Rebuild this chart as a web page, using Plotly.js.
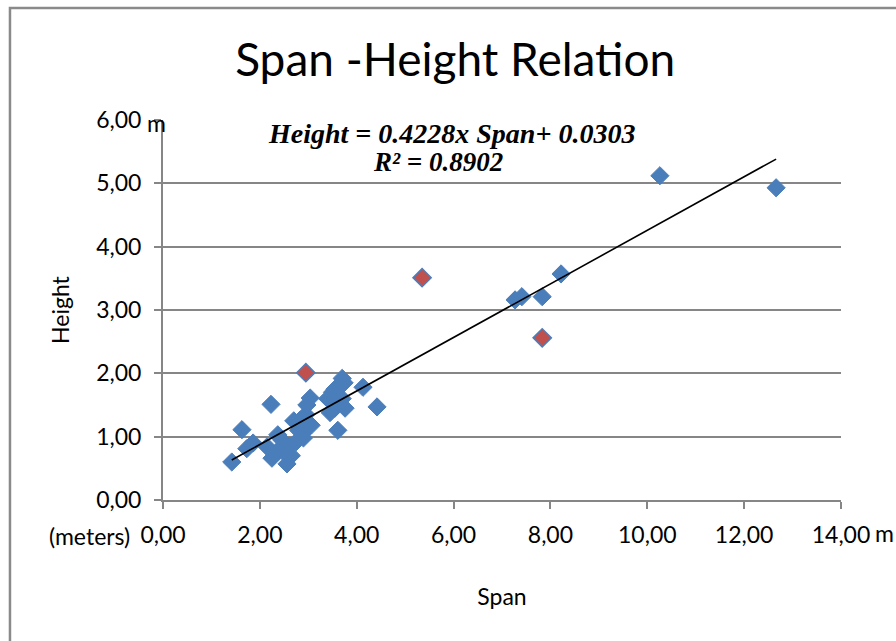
<!DOCTYPE html>
<html>
<head>
<meta charset="utf-8">
<script src="https://cdn.plot.ly/plotly-3.0.1.min.js"></script>
<style>html,body{margin:0;padding:0;background:#fff;}#chart{width:896px;height:641px;}</style>
</head>
<body>
<div id="chart"></div>
<script>
// Blue points (Span, Height) in meters
const spanBlue = [1.42, 1.63, 1.73, 1.86, 2.15, 2.23, 2.25, 2.37, 2.40, 2.45, 2.50, 2.52, 2.56, 2.62, 2.65, 2.70, 2.75, 2.80, 2.83, 2.88, 2.95, 2.97, 3.04, 3.06, 3.00, 2.90, 3.45, 3.51, 3.50, 3.55, 3.55, 3.61, 3.65, 3.70, 3.70, 3.74, 3.76, 3.60, 3.40, 4.13, 4.42, 7.27, 7.41, 7.83, 8.22, 10.26, 12.66];
const heightBlue = [0.60, 1.11, 0.81, 0.90, 0.84, 1.51, 0.66, 1.03, 0.80, 0.95, 0.75, 0.88, 0.57, 0.85, 0.70, 1.25, 0.92, 1.10, 1.26, 1.05, 1.35, 1.50, 1.61, 1.18, 1.20, 0.98, 1.38, 1.53, 1.70, 1.75, 1.45, 1.10, 1.80, 1.92, 1.60, 1.85, 1.45, 1.62, 1.60, 1.78, 1.47, 3.16, 3.21, 3.21, 3.57, 5.12, 4.93];
// Highlighted (red) points
const spanRed = [2.95, 5.35, 7.83];
const heightRed = [2.01, 3.51, 2.56];
// Trendline parameters
const slope = 0.4228;
const intercept = 0.0303;
const r2 = 0.8902;
// Tick values and labels
const xTicks = [0, 2, 4, 6, 8, 10, 12, 14];
const yTicks = [0, 1, 2, 3, 4, 5, 6];

const allSpan = spanBlue.concat(spanRed);
const xMin = Math.min(...allSpan), xMax = Math.max(...allSpan);
const trendX = [xMin, xMax];
const trendY = trendX.map(v => slope * v + intercept);

const fmt = v => v.toFixed(2).replace('.', ',');
const FONT = 'Lato, sans-serif';
const tickFont = {family: FONT, size: 23, color: '#000'};

const traces = [
  {x: spanBlue, y: heightBlue, type: 'scatter', mode: 'markers', name: 'Height',
   marker: {symbol: 'diamond', size: 14, color: '#4A7EBB', line: {color: '#4A7EBB', width: 1}}},
  {x: spanRed, y: heightRed, type: 'scatter', mode: 'markers', name: 'Outliers',
   marker: {symbol: 'diamond', size: 14, color: '#C0504D', line: {color: '#4A7EBB', width: 1.5}}},
  {x: trendX, y: trendY, type: 'scatter', mode: 'lines', name: 'Trend',
   line: {color: '#000', width: 1.6}}
];

const layout = {
  width: 896, height: 641, autosize: false,
  margin: {l: 163, r: 55, t: 120, b: 141},
  paper_bgcolor: '#fff', plot_bgcolor: '#fff',
  showlegend: false,
  separators: ',.',
  title: {text: 'Span -Height Relation', x: 0.508, xanchor: 'center', xref: 'container',
          y: 0.907, yanchor: 'middle', yref: 'container',
          font: {family: FONT, size: 46, color: '#000'}},
  xaxis: {range: [0, 14], tickvals: xTicks, ticktext: xTicks.map(fmt),
          showgrid: false, zeroline: false, showline: true, linecolor: '#868686', linewidth: 2,
          ticks: 'outside', ticklen: 7, tickwidth: 2, tickcolor: '#868686', ticklabelstandoff: 6,
          tickfont: tickFont, fixedrange: true,
          title: {text: 'Span', font: {family: FONT, size: 23, color: '#000'}, standoff: 42}},
  yaxis: {range: [0, 6], tickvals: yTicks, ticktext: yTicks.map(fmt),
          showgrid: true, gridcolor: '#868686', gridwidth: 2, zeroline: false,
          showline: true, linecolor: '#868686', linewidth: 2,
          ticks: 'outside', ticklen: 7, tickwidth: 2, tickcolor: '#868686', ticklabelstandoff: 8,
          tickfont: tickFont, fixedrange: true,
          title: {text: 'Height', font: {family: FONT, size: 23, color: '#000'}, standoff: 20}},
  shapes: [
    {type: 'rect', xref: 'paper', yref: 'paper', x0: -0.2257, x1: 1.3, y0: -0.6, y1: 1.2947,
     line: {color: '#8a8a8a', width: 2.5}, fillcolor: 'rgba(0,0,0,0)', layer: 'below'}
  ],
  annotations: [
    {text: '<b><i>Height = ' + slope.toFixed(4) + 'x Span+ ' + intercept.toFixed(4) + '</i></b>',
     xref: 'paper', yref: 'paper', x: (451 - 163) / 678, y: (500 - 133) / 380,
     xanchor: 'center', yanchor: 'middle', showarrow: false,
     font: {family: 'Liberation Serif, serif', size: 28, color: '#000'}},
    {text: '<b><i>R² = ' + r2.toFixed(4) + '</i></b>',
     xref: 'paper', yref: 'paper', x: (438 - 163) / 678, y: (500 - 162) / 380,
     xanchor: 'center', yanchor: 'middle', showarrow: false,
     font: {family: 'Liberation Serif, serif', size: 27, color: '#000'}},
    {text: 'm', xref: 'paper', yref: 'paper', x: (156 - 163) / 678, y: (500 - 123) / 380,
     xanchor: 'center', yanchor: 'middle', showarrow: false, font: tickFont},
    {text: 'm', xref: 'paper', yref: 'paper', x: (884 - 163) / 678, y: (500 - 533) / 380,
     xanchor: 'center', yanchor: 'middle', showarrow: false, font: tickFont},
    {text: '(meters)', xref: 'paper', yref: 'paper', x: (89 - 163) / 678, y: (500 - 536) / 380,
     xanchor: 'center', yanchor: 'middle', showarrow: false, font: tickFont}
  ]
};

Plotly.newPlot('chart', traces, layout, {displayModeBar: false, staticPlot: true});
</script>
</body>
</html>
